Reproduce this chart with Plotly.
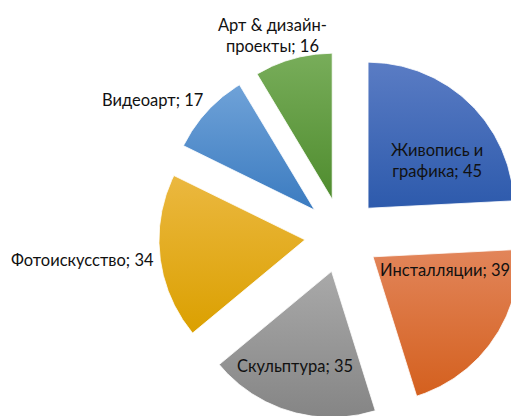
import numpy as np
import plotly.graph_objects as go

# Art forms and the number of works in each
categories = ["Живопись и графика", "Инсталляции", "Скульптура",
              "Фотоискусство", "Видеоарт", "Арт & дизайн-проекты"]
values = [45, 39, 35, 34, 17, 16]
label_texts = ["Живопись и<br>графика; 45", "Инсталляции; 39", "Скульптура; 35",
               "Фотоискусство; 34", "Видеоарт; 17", "Арт & дизайн-<br>проекты; 16"]

# Gradient colours per slice: (top, bottom)
colors = [("#5a7cc4", "#2d5aac"), ("#e2855a", "#d4601e"), ("#a9a9a9", "#858585"),
          ("#ebb840", "#dba000"), ("#6fa2d8", "#3b7bc0"), ("#78ad5a", "#4f8c2e")]

# Pie geometry on a pixel-sized canvas (y pointing up)
W, H = 511, 416
cx, cy = 342.2, 180.6
radius = 146.0
explode = 37.5

fig = go.Figure()
total = sum(values)
start = 0.0
for name, val, (top, bot) in zip(categories, values, colors):
    span = 360.0 * val / total
    a0, a1 = start, start + span
    mid = np.radians((a0 + a1) / 2)
    ox = cx + explode * np.sin(mid)
    oy = cy + explode * np.cos(mid)
    ang = np.radians(np.linspace(a0, a1, 120))
    xs = np.concatenate([[ox], ox + radius * np.sin(ang), [ox]])
    ys = np.concatenate([[oy], oy + radius * np.cos(ang), [oy]])
    fig.add_trace(go.Scatter(
        x=xs, y=ys, mode="lines", fill="toself", name=name,
        line=dict(width=0.8, color="white"),
        fillgradient=dict(type="vertical", start=float(ys.min()), stop=float(ys.max()),
                          colorscale=[[0, bot], [1, top]]),
        hoverinfo="name", showlegend=False,
    ))
    start = a1

# Data labels
label_pos = [(437, 256), (445, 146), (295, 50), (82, 156), (152, 316), (272, 381)]
for txt, (lx, ly) in zip(label_texts, label_pos):
    fig.add_annotation(x=lx, y=ly, text=txt, showarrow=False,
                       font=dict(family="Lato", size=16.5, color="#111111"),
                       xanchor="center", yanchor="middle", align="center")

fig.update_layout(
    width=W, height=H, margin=dict(l=0, r=0, t=0, b=0),
    paper_bgcolor="white", plot_bgcolor="white",
    xaxis=dict(range=[0, W], visible=False, fixedrange=True),
    yaxis=dict(range=[0, H], visible=False, fixedrange=True),
)

fig.write_html("out.html")
